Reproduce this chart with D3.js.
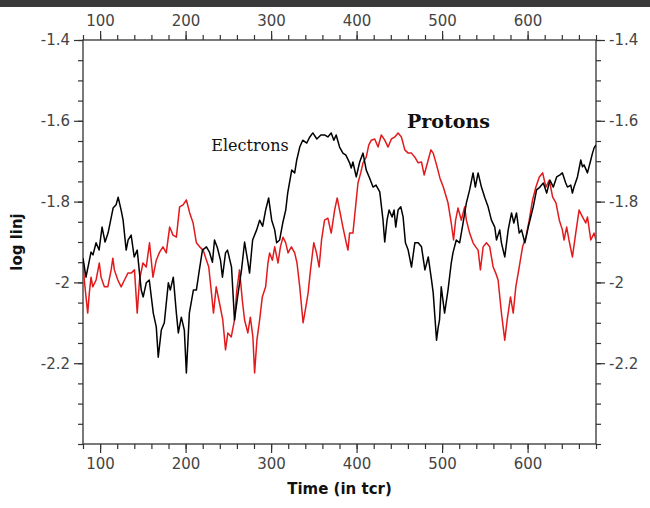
<!DOCTYPE html>
<html><head><meta charset="utf-8">
<script src="https://cdn.jsdelivr.net/npm/d3@7/dist/d3.min.js"></script>
<style>
html,body{margin:0;padding:0;background:#fff;}
svg{display:block;}
</style></head>
<body>
<svg id="chart" width="650" height="508"></svg>
<script>
const xMajorTicks = [100, 200, 300, 400, 500, 600];
const yMajorTicks = [-1.4, -1.6, -1.8, -2, -2.2];
const xDomain = [80, 680];
const yDomain = [-2.4, -1.4];
const seriesNames = ["Electrons", "Protons"];

const electrons = [
[80,-1.940],[83.5,-1.987],[89.4,-1.925],[91.7,-1.932],[95.3,-1.902],[98.8,-1.920],[102.3,-1.863],[105.8,-1.900],
[109.3,-1.878],[115.2,-1.816],[118.7,-1.808],[121.1,-1.789],[124.6,-1.821],[126.9,-1.846],[130.5,-1.920],[132.8,-1.895],
[136.3,-1.883],[139.9,-1.937],[143.4,-1.920],[148.1,-2.019],[150.4,-2.036],[154,-2.001],[157.5,-1.994],[162.2,-2.076],
[165.7,-2.110],[168,-2.185],[171.6,-2.118],[175.1,-2.100],[179.8,-2.001],[182.1,-2.019],[185.6,-1.987],[189.2,-2.076],
[191.5,-2.125],[195,-2.086],[198.5,-2.118],[200.9,-2.224],[204.4,-2.076],[209.1,-2.019],[212.6,-2.019],[216.1,-1.969],
[219.7,-1.920],[224.4,-1.912],[227.9,-1.925],[231.4,-1.950],[233.8,-1.895],[237.3,-1.915],[240.8,-1.945],[243.1,-1.987],
[246.7,-1.927],[249,-1.920],[253.7,-1.962],[257.2,-2.093],[260.8,-2.036],[265.4,-1.969],[269,-1.900],[272.5,-1.945],
[274.8,-1.977],[278.4,-1.895],[283.1,-1.870],[286.6,-1.846],[290.1,-1.861],[293.6,-1.821],[297.1,-1.791],[300.7,-1.846],
[304.2,-1.870],[306.5,-1.902],[310,-1.895],[313.6,-1.853],[317.1,-1.821],[319.4,-1.779],[324.1,-1.722],[327.6,-1.729],
[330,-1.697],[333.5,-1.665],[337,-1.648],[341.7,-1.655],[345.3,-1.640],[348.8,-1.630],[353.5,-1.645],[358.2,-1.635],
[362.5,-1.635],[366.4,-1.640],[370.3,-1.630],[373.4,-1.648],[376.1,-1.635],[380.1,-1.665],[384,-1.680],[387.5,-1.685],
[391.8,-1.704],[393.7,-1.717],[395.7,-1.702],[399.6,-1.739],[403.6,-1.702],[407.5,-1.680],[411.3,-1.722],[415.3,-1.742],
[419.2,-1.764],[422.7,-1.759],[427.1,-1.776],[430.9,-1.846],[432.9,-1.900],[435.6,-1.846],[438,-1.821],[441.5,-1.838],
[443.8,-1.821],[445.8,-1.863],[448.5,-1.821],[451.7,-1.813],[454.4,-1.838],[457.1,-1.902],[460.3,-1.920],[464.2,-1.962],
[468.1,-1.902],[472,-1.902],[475.9,-1.912],[479.9,-1.969],[483.8,-1.937],[487.6,-1.994],[489.6,-2.026],[491.6,-2.086],
[493.5,-2.143],[495.5,-2.110],[497,-2.093],[499,-2.011],[502.9,-2.076],[506.9,-2.019],[510.7,-1.952],[512.7,-1.927],
[516.6,-1.895],[520.5,-1.902],[524.5,-1.853],[528.4,-1.803],[532.2,-1.771],[536.2,-1.729],[538.9,-1.764],[542.1,-1.729],
[546,-1.764],[549.8,-1.789],[553.8,-1.813],[557.7,-1.846],[561.6,-1.863],[563.6,-1.895],[567.4,-1.870],[569.4,-1.902],
[573.3,-1.937],[577.3,-1.870],[581.2,-1.828],[583.9,-1.853],[587,-1.828],[590.2,-1.878],[592.9,-1.870],[596.8,-1.902],
[600.8,-1.863],[606.6,-1.813],[610.5,-1.771],[614.4,-1.764],[618.4,-1.754],[622.3,-1.779],[626.1,-1.747],[630.1,-1.764],
[634,-1.739],[637.9,-1.734],[640.7,-1.729],[644.6,-1.754],[646.6,-1.764],[650.5,-1.759],[652.4,-1.779],[654.3,-1.764],
[658.3,-1.739],[662.2,-1.697],[664.2,-1.714],[666,-1.709],[670,-1.729],[673.9,-1.697],[675.9,-1.680],[677.8,-1.667],
[680,-1.660]
];

const protons = [
[80,-1.940],[81.5,-1.994],[85.5,-2.076],[87.4,-2.026],[89.4,-1.987],[91.4,-2.011],[95.3,-1.994],[99.1,-1.952],
[101.1,-1.987],[105,-2.011],[109,-2.011],[112.9,-1.969],[114.9,-1.940],[116.7,-1.969],[120.7,-1.994],[124.6,-2.011],
[128.5,-1.994],[132.5,-1.977],[136.3,-1.977],[140.2,-1.969],[143.4,-2.076],[146.1,-1.994],[150.1,-1.952],[154,-1.962],
[157.8,-1.902],[161.8,-1.987],[165.7,-1.945],[169.6,-1.925],[173.5,-1.912],[177.4,-1.927],[181.3,-1.863],[185.3,-1.883],
[189.2,-1.888],[193,-1.813],[197,-1.808],[200.9,-1.796],[204.8,-1.828],[208.8,-1.853],[212.6,-1.902],[216.5,-1.912],
[220.5,-1.920],[224.4,-1.945],[227.1,-1.962],[229.9,-2.019],[232.6,-2.076],[235.8,-2.011],[239.6,-2.051],[243.5,-2.093],
[246.7,-2.167],[249.4,-2.125],[253.4,-2.135],[257.2,-2.093],[259.9,-2.019],[263.1,-1.969],[266.3,-2.044],[269,-2.093],
[272.8,-2.125],[275.7,-2.086],[278.7,-2.135],[280.7,-2.224],[283.4,-2.143],[286.6,-2.093],[289.7,-2.036],[293.6,-2.011],
[296.3,-1.952],[298.3,-1.927],[301.5,-1.945],[304.2,-1.912],[308.1,-1.952],[310.9,-1.912],[313.9,-1.888],[317.1,-1.902],
[319.8,-1.927],[323.7,-1.912],[327.6,-1.927],[330.3,-1.952],[333.5,-2.011],[337.4,-2.100],[340.6,-2.061],[343.3,-2.026],
[346.1,-1.969],[349.9,-1.902],[353.1,-1.927],[356.2,-1.962],[359,-1.895],[362.5,-1.846],[366.4,-1.841],[370.3,-1.878],
[374.3,-1.821],[377.3,-1.791],[380.1,-1.821],[384,-1.863],[387.9,-1.902],[389.9,-1.920],[391.8,-1.878],[395.7,-1.878],
[398.4,-1.821],[401.6,-1.754],[404.8,-1.729],[407.5,-1.704],[411.3,-1.690],[414.2,-1.660],[417.2,-1.648],[421.2,-1.645],
[425.1,-1.665],[428.9,-1.635],[432.9,-1.648],[436.8,-1.665],[440.7,-1.645],[444.7,-1.640],[448.5,-1.630],[452.4,-1.640],
[456.4,-1.672],[460.3,-1.680],[464.2,-1.680],[468.1,-1.690],[472,-1.704],[475.9,-1.702],[479,-1.734],[482.9,-1.704],
[486.9,-1.672],[489.6,-1.680],[493.5,-1.709],[497.5,-1.742],[501.4,-1.764],[506.9,-1.803],[510.7,-1.853],[513.4,-1.895],
[515.8,-1.846],[518.6,-1.816],[522.5,-1.846],[526.4,-1.813],[528.4,-1.846],[532.2,-1.878],[536.2,-1.902],[539.3,-1.912],
[542.1,-1.920],[544.8,-1.969],[548,-1.912],[551.8,-1.902],[555.7,-1.912],[559.7,-1.962],[562.7,-1.977],[565.5,-1.994],
[569.4,-2.076],[573.3,-2.143],[576.1,-2.093],[580,-2.036],[583.2,-2.076],[586.2,-2.011],[590.2,-1.962],[594.1,-1.912],
[598,-1.888],[601.9,-1.846],[605.8,-1.796],[609.7,-1.764],[613.7,-1.739],[617.6,-1.729],[621.4,-1.764],[625.4,-1.747],
[629.3,-1.789],[633.2,-1.803],[637.1,-1.846],[640.7,-1.870],[642.6,-1.895],[645.7,-1.863],[648.4,-1.895],[652.4,-1.937],
[656.3,-1.878],[660.2,-1.821],[664.2,-1.838],[668,-1.853],[670,-1.838],[673.9,-1.895],[677.8,-1.878],[680,-1.895]
];

const svg = d3.select("#chart");
const W = 650, H = 508;
const m = {left: 83, right: 54, top: 40, bottom: 64};
const iw = W - m.left - m.right, ih = H - m.top - m.bottom;

// dark strip at very top
svg.append("rect").attr("x",0).attr("y",0).attr("width",W).attr("height",7).attr("fill","#3a3a3a");

const x = d3.scaleLinear().domain(xDomain).range([m.left, m.left + iw]);
const y = d3.scaleLinear().domain(yDomain).range([m.top + ih, m.top]);

const xMinor = d3.range(80, 681, 20);
const yMinor = d3.range(-2.4, -1.399, 0.05).map(v => +v.toFixed(2));
const fmtY = d => String(+d.toFixed(1));
const axisColor = "#333";
const labelColor = "#444";
const majorLen = 9, minorLen = 5;

function styleAxis(g){
  g.select(".domain").remove();
  g.selectAll("line").attr("stroke", axisColor).attr("stroke-width", 1.2);
  g.selectAll("text").attr("fill", labelColor).attr("font-family","DejaVu Sans, sans-serif").attr("font-size", 15);
}

// bottom
svg.append("g").attr("transform",`translate(0,${m.top+ih})`)
  .call(d3.axisBottom(x).tickValues(xMinor).tickSize(minorLen).tickFormat("")).call(styleAxis);
svg.append("g").attr("transform",`translate(0,${m.top+ih})`)
  .call(d3.axisBottom(x).tickValues(xMajorTicks).tickSize(majorLen).tickPadding(5).tickFormat(d3.format("d"))).call(styleAxis);
// top
svg.append("g").attr("transform",`translate(0,${m.top})`)
  .call(d3.axisTop(x).tickValues(xMinor).tickSize(minorLen).tickFormat("")).call(styleAxis);
svg.append("g").attr("transform",`translate(0,${m.top})`)
  .call(d3.axisTop(x).tickValues(xMajorTicks).tickSize(majorLen).tickPadding(5).tickFormat(d3.format("d"))).call(styleAxis);
// left
svg.append("g").attr("transform",`translate(${m.left},0)`)
  .call(d3.axisLeft(y).tickValues(yMinor).tickSize(minorLen).tickFormat("")).call(styleAxis);
svg.append("g").attr("transform",`translate(${m.left},0)`)
  .call(d3.axisLeft(y).tickValues(yMajorTicks).tickSize(majorLen).tickPadding(4).tickFormat(fmtY)).call(styleAxis);
// right
svg.append("g").attr("transform",`translate(${m.left+iw},0)`)
  .call(d3.axisRight(y).tickValues(yMinor).tickSize(minorLen).tickFormat("")).call(styleAxis);
svg.append("g").attr("transform",`translate(${m.left+iw},0)`)
  .call(d3.axisRight(y).tickValues(yMajorTicks).tickSize(majorLen).tickPadding(4).tickFormat(fmtY)).call(styleAxis);

// frame
svg.append("rect").attr("x",m.left).attr("y",m.top).attr("width",iw).attr("height",ih)
  .attr("fill","none").attr("stroke",axisColor).attr("stroke-width",1.3);

// lines
const line = d3.line().x(d => x(d[0])).y(d => y(d[1]));
svg.append("clipPath").attr("id","clip").append("rect")
  .attr("x",m.left).attr("y",m.top).attr("width",iw).attr("height",ih);
const plot = svg.append("g").attr("clip-path","url(#clip)");
plot.append("path").datum(protons).attr("d",line).attr("fill","none")
  .attr("stroke","#e31a1c").attr("stroke-width",1.5).attr("stroke-linejoin","round");
plot.append("path").datum(electrons).attr("d",line).attr("fill","none")
  .attr("stroke","#000").attr("stroke-width",1.5).attr("stroke-linejoin","round");

// series labels
svg.append("text").attr("x", x(230)).attr("y", y(-1.675)).text(seriesNames[0])
  .attr("font-family","DejaVu Serif, serif").attr("font-size",16).attr("fill","#111");
svg.append("text").attr("x", x(459)).attr("y", y(-1.618)).text(seriesNames[1])
  .attr("font-family","DejaVu Serif, serif").attr("font-weight","bold").attr("font-size",19).attr("fill","#111");

// axis titles
svg.append("text").attr("x", m.left + iw/2).attr("y", 494).attr("text-anchor","middle")
  .attr("font-family","DejaVu Sans, sans-serif").attr("font-weight","bold").attr("font-size",15)
  .attr("fill","#111").text("Time (in tcr)");
svg.append("text").attr("transform",`translate(22,${m.top+ih/2}) rotate(-90)`).attr("text-anchor","middle")
  .attr("font-family","DejaVu Sans, sans-serif").attr("font-weight","bold").attr("font-size",15)
  .attr("fill","#111").text("log linj");
</script>
</body></html>
